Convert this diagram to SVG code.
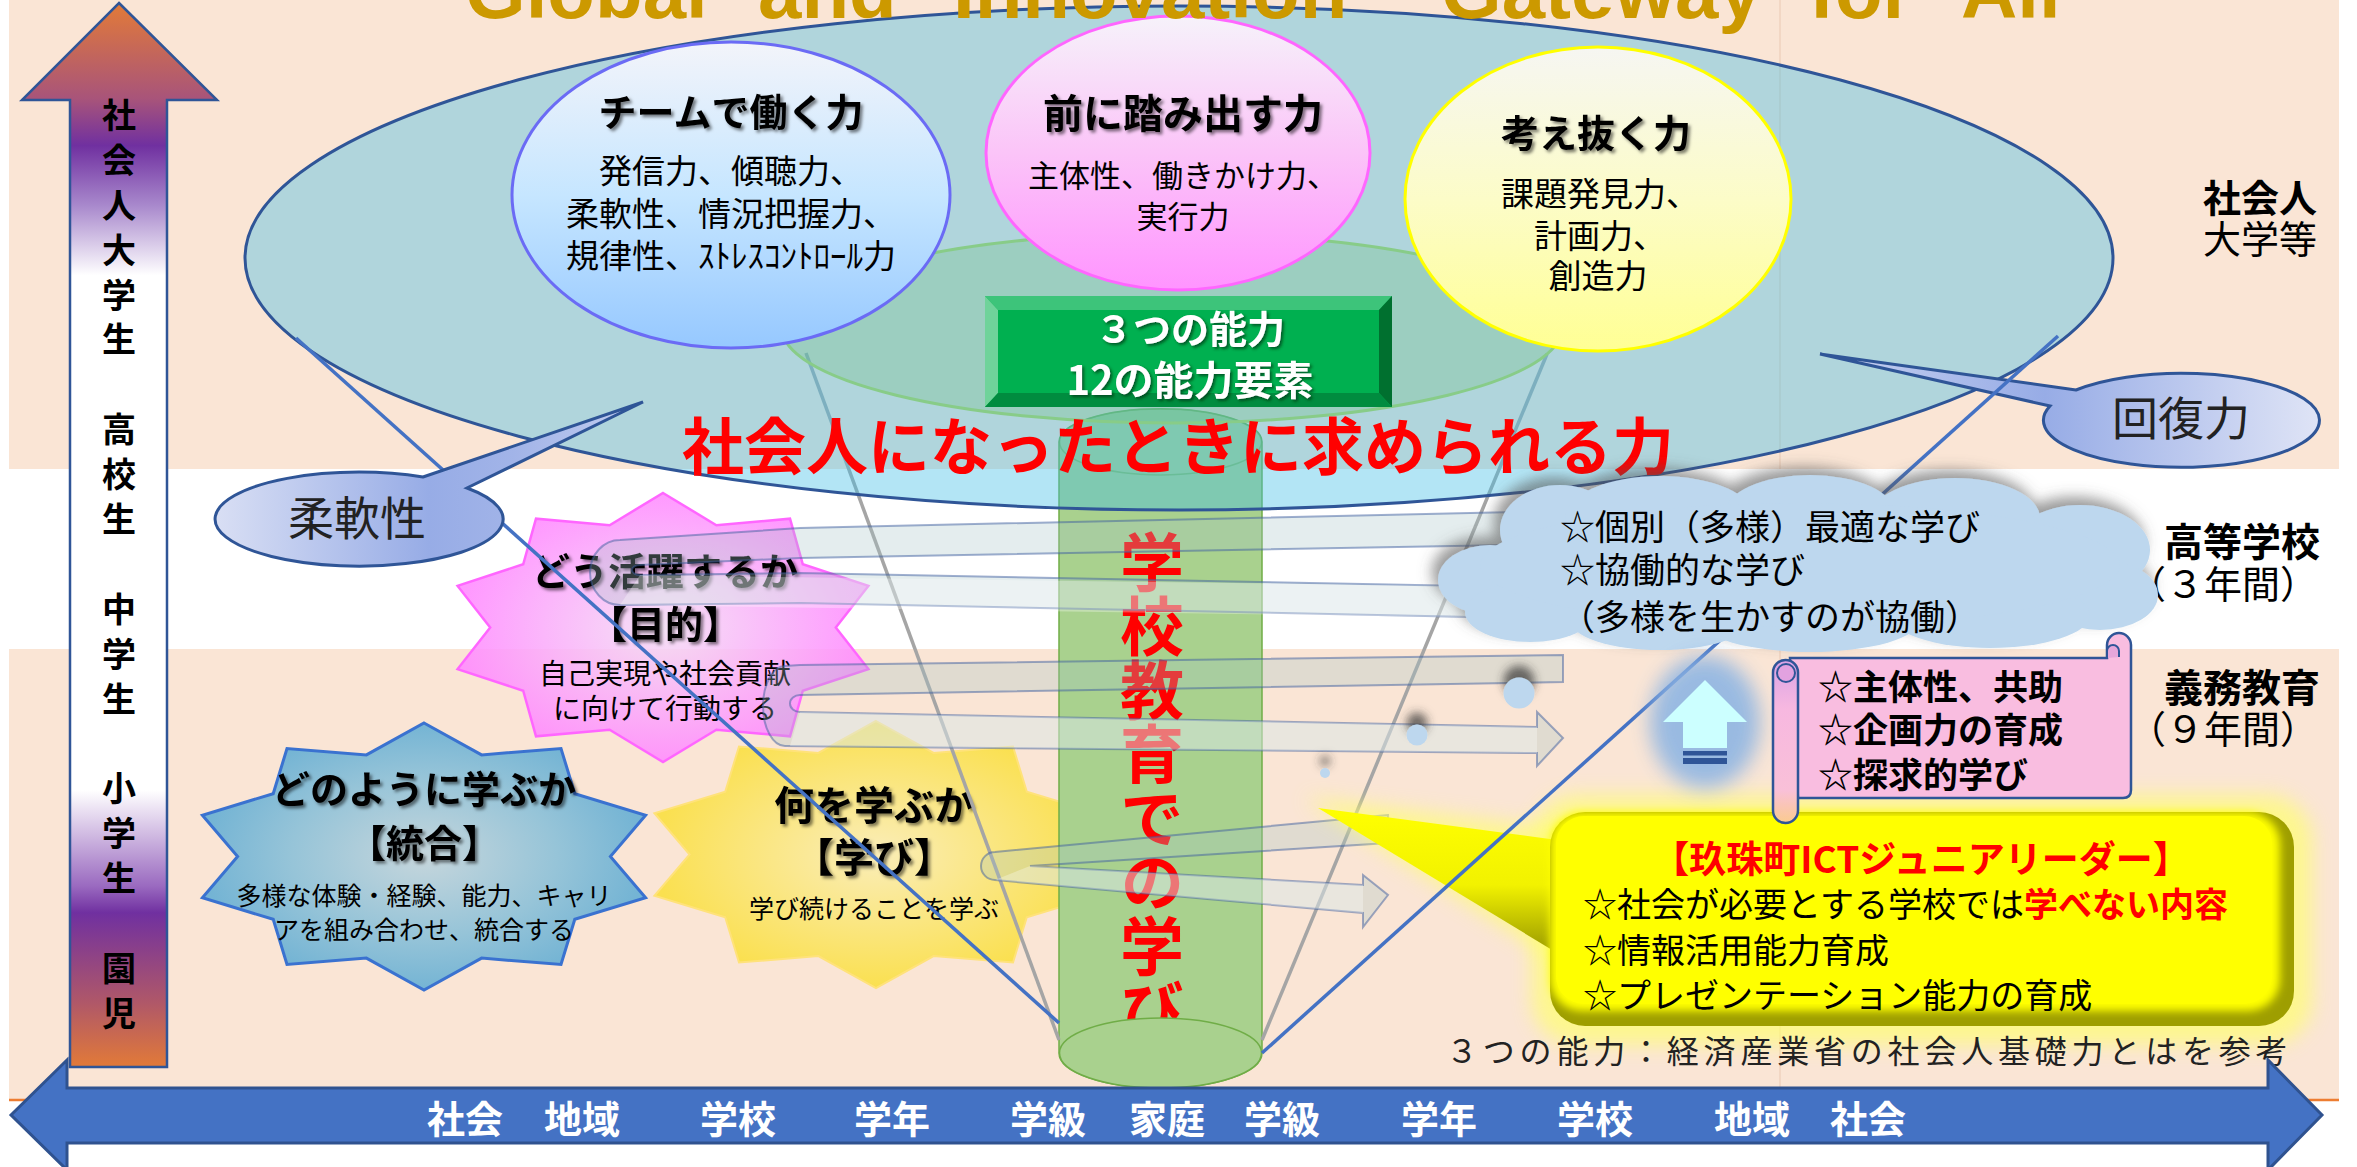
<svg xmlns="http://www.w3.org/2000/svg" width="2357" height="1167" viewBox="0 0 2357 1167">
<style>
text{font-family:'Noto Sans CJK JP','Noto Sans',sans-serif}
.b{font-weight:700}
.m{text-anchor:middle}
.w{fill:#fff}
.r{fill:#f00}
.v{writing-mode:vertical-rl}
.sh{filter:url(#tsh)}
.band{stroke:#3F5F9F;stroke-opacity:.5;stroke-width:2;fill:#A4C4C6;fill-opacity:.3}
.lite{fill:#fff;fill-opacity:.3}
.bl{stroke:#4472C4;stroke-width:3.5}
.gl{stroke:#A5A5A5;stroke-width:3.5}
.ol{stroke:#2F5597;stroke-width:3}
</style>
<defs>
<linearGradient id="gArr" gradientUnits="userSpaceOnUse" x1="0" y1="3" x2="0" y2="1067">
<stop offset="0" stop-color="#E27A38"/><stop offset="0.09" stop-color="#A8547A"/><stop offset="0.134" stop-color="#7030A0"/><stop offset="0.19" stop-color="#A888CC"/><stop offset="0.256" stop-color="#FFFFFF"/><stop offset="0.74" stop-color="#FFFFFF"/><stop offset="0.83" stop-color="#9A6AC0"/><stop offset="0.855" stop-color="#7030A0"/><stop offset="0.94" stop-color="#B05868"/><stop offset="1" stop-color="#E27A38"/>
</linearGradient>
<linearGradient id="gBlueC" x1="0" y1="0" x2="0" y2="1"><stop offset="0" stop-color="#F3F4FA"/><stop offset="0.5" stop-color="#C6E6FF"/><stop offset="1" stop-color="#96C8FF"/></linearGradient>
<linearGradient id="gPinkC" x1="0" y1="0" x2="0" y2="1"><stop offset="0" stop-color="#F6F2FA"/><stop offset="0.5" stop-color="#FBC4F8"/><stop offset="1" stop-color="#FF94FF"/></linearGradient>
<linearGradient id="gYelC" x1="0" y1="0" x2="0" y2="1"><stop offset="0" stop-color="#F6F6F2"/><stop offset="0.5" stop-color="#FCFCC8"/><stop offset="1" stop-color="#FFFF94"/></linearGradient>
<linearGradient id="gCall1" x1="0" y1="0" x2="1" y2="0"><stop offset="0" stop-color="#D9DFF4"/><stop offset="0.5" stop-color="#97ACE6"/><stop offset="0.7" stop-color="#A2B4E8"/><stop offset="1" stop-color="#C4CEF0"/></linearGradient>
<linearGradient id="gCall2" x1="0" y1="0" x2="1" y2="0"><stop offset="0" stop-color="#C9D2F0"/><stop offset="0.45" stop-color="#97ACE6"/><stop offset="1" stop-color="#DFE4F6"/></linearGradient>
<radialGradient id="gPinkS"><stop offset="0" stop-color="#F4DDF4"/><stop offset="1" stop-color="#FF8AFF"/></radialGradient>
<radialGradient id="gBlueS"><stop offset="0" stop-color="#C6D6DC"/><stop offset="0.6" stop-color="#96C4D8"/><stop offset="1" stop-color="#74B4D4"/></radialGradient>
<radialGradient id="gYelS"><stop offset="0" stop-color="#FAEDB8"/><stop offset="1" stop-color="#FAE050"/></radialGradient>
<linearGradient id="gRoll" x1="0" y1="0" x2="0" y2="1"><stop offset="0" stop-color="#D9A3E6"/><stop offset="0.3" stop-color="#F7B8E0"/><stop offset="0.8" stop-color="#F9C0D8"/><stop offset="1" stop-color="#FBCB8E"/></linearGradient>
<linearGradient id="gPtr" x1="0" y1="0" x2="0" y2="1"><stop offset="0" stop-color="#FFFF00"/><stop offset="0.5" stop-color="#F2F200"/><stop offset="1" stop-color="#8C8C00"/></linearGradient>
<filter id="tsh" x="-10%" y="-30%" width="120%" height="160%"><feDropShadow dx="2.5" dy="2.5" stdDeviation="1.5" flood-color="#000" flood-opacity="0.5"/></filter>
<filter id="tshG" x="-10%" y="-30%" width="120%" height="160%"><feDropShadow dx="2" dy="2" stdDeviation="1.5" flood-color="#003318" flood-opacity="0.7"/></filter>
<filter id="cloudSh" x="-10%" y="-30%" width="120%" height="160%"><feDropShadow dx="-6" dy="-8" stdDeviation="7" flood-color="#555" flood-opacity="0.6"/></filter>
<filter id="dotSh" x="-150%" y="-200%" width="400%" height="400%"><feDropShadow dx="0" dy="-12" stdDeviation="5" flood-color="#333" flood-opacity="0.7"/></filter>
<filter id="blur10" x="-50%" y="-50%" width="200%" height="200%"><feGaussianBlur stdDeviation="10"/></filter>
<filter id="blur4" x="-10%" y="-10%" width="120%" height="120%"><feGaussianBlur stdDeviation="4"/></filter>
</defs>

<g id="background">
<rect x="0" y="0" width="2357" height="1167" fill="#fff"/>
<rect x="9" y="0" width="2330" height="469" fill="#FAE5D5"/>
<rect x="9" y="649" width="2330" height="451" fill="#FAE5D5"/>
<line x1="1780" y1="0" x2="1780" y2="469" stroke="#EFD2BE" stroke-width="1.5"/>
<line x1="1780" y1="649" x2="1780" y2="1100" stroke="#EFD2BE" stroke-width="1.5"/>
<line x1="9" y1="1100" x2="2339" y2="1100" stroke="#ED7D31" stroke-width="2.5"/>
</g>

<g id="vertical-arrow">
<path d="M119,3 L217,100 L167,100 L167,1067 L70,1067 L70,100 L22,100 Z" fill="url(#gArr)" stroke="#2F5597" stroke-width="2.5"/>
<text x="119" y="98" class="b v" font-size="34" letter-spacing="10.9">社会人大学生　高校生　中学生　小学生　園児</text>
</g>

<g id="star-purpose">
<polygon points="663,493 716.4,525.2 790,518.7 802.8,564.3 868.4,585.9 835.8,627.5 868.4,669.1 802.8,690.7 790,736.3 716.4,729.8 663,762 609.6,729.8 536,736.3 523.2,690.7 457.6,669.1 490.2,627.5 457.6,585.9 523.2,564.3 536,518.7 609.6,525.2" fill="url(#gPinkS)" fill-opacity="0.88" stroke="#FF66FF" stroke-width="2.5"/>
<text x="665" y="585" class="b m sh" font-size="38">どう活躍するか</text>
<text x="665" y="638" class="b m sh" font-size="38">【目的】</text>
<text x="665" y="684" class="m" font-size="28">自己実現や社会貢献</text>
<text x="665" y="719" class="m" font-size="28">に向けて行動する</text>
</g>

<g id="star-integration">
<polygon points="424,723 481.6,754.9 561,748.5 574.8,793.7 645.6,815.2 610.4,856.5 645.6,897.8 574.8,919.3 561,964.5 481.6,958.1 424,990 366.4,958.1 287,964.5 273.2,919.3 202.4,897.8 237.6,856.5 202.4,815.2 273.2,793.7 287,748.5 366.4,754.9" fill="url(#gBlueS)" stroke="#3A72D0" stroke-width="3"/>
<text x="424" y="803" class="b m sh" font-size="38">どのように学ぶか</text>
<text x="424" y="857" class="b m sh" font-size="38">【統合】</text>
<text x="424" y="905" class="m" font-size="25">多様な体験・経験、能力、キャリ</text>
<text x="424" y="939" class="m" font-size="25">アを組み合わせ、統合する</text>
</g>

<g id="star-learning">
<polygon points="876,721 933.6,752.9 1013,746.5 1026.8,791.7 1097.6,813.2 1062.4,854.5 1097.6,895.8 1026.8,917.3 1013,962.5 933.6,956.1 876,988 818.4,956.1 739,962.5 725.2,917.3 654.4,895.8 689.6,854.5 654.4,813.2 725.2,791.7 739,746.5 818.4,752.9" fill="url(#gYelS)" stroke="#FFE27A" stroke-width="2"/>
<text x="874" y="820" class="b m sh" font-size="40">何を学ぶか</text>
<text x="874" y="872" class="b m sh" font-size="40">【学び】</text>
<text x="874" y="918" class="m" font-size="25">学び続けることを学ぶ</text>
</g>

<g id="cylinder">
<path d="M1059,442 A101,33 0 0 1 1262,442 L1262,1053 A101,35 0 0 1 1059,1053 Z" fill="#A9D18E" stroke="#70AD47" stroke-width="1.5"/>
<ellipse cx="1160.5" cy="442" rx="101" ry="33" fill="none" stroke="#70AD47" stroke-width="1.5" stroke-opacity="0.6"/>
<text x="1152" y="530" class="b r v" font-size="64">学校教育での学び</text>
<ellipse cx="1160.5" cy="1053" rx="101" ry="35" fill="#A9D18E" stroke="#70AD47" stroke-width="1.5"/>
</g>

<g id="connectors-funnel">
<line x1="806" y1="353" x2="1059" y2="1040" class="gl"/>
<line x1="1547" y1="354" x2="1262" y2="1040" class="gl"/>
</g>

<g id="society-ellipse">
<ellipse cx="1179" cy="258" rx="934" ry="252" fill="#41BEE6" fill-opacity="0.4" stroke="#2F5597" stroke-width="3"/>
<ellipse cx="1172" cy="328" rx="390" ry="95" fill="#6CC080" fill-opacity="0.3" stroke="#88CC88" stroke-width="3"/>
</g>

<g id="circle-team">
<ellipse cx="731" cy="195" rx="219" ry="153" fill="url(#gBlueC)" stroke="#6B6BF5" stroke-width="3"/>
<text x="731" y="126" class="b m sh" font-size="38">チームで働く力</text>
<text x="731" y="183" class="m" font-size="33">発信力、傾聴力、</text>
<text x="731" y="226" class="m" font-size="33">柔軟性、情況把握力、</text>
<text x="731" y="268" class="m" font-size="33">規律性、ｽﾄﾚｽｺﾝﾄﾛｰﾙ力</text>
</g>

<g id="circle-action">
<ellipse cx="1178" cy="153" rx="192" ry="137" fill="url(#gPinkC)" stroke="#FF66FF" stroke-width="3"/>
<text x="1183" y="128" class="b m sh" font-size="40">前に踏み出す力</text>
<text x="1183" y="187" class="m" font-size="31">主体性、働きかけ力、</text>
<text x="1183" y="228" class="m" font-size="31">実行力</text>
</g>

<g id="circle-thinking">
<ellipse cx="1598" cy="199" rx="193" ry="152" fill="url(#gYelC)" stroke="#FFFF00" stroke-width="3"/>
<text x="1596" y="147" class="b m sh" font-size="38">考え抜く力</text>
<text x="1600" y="206" class="m" font-size="33">課題発見力、</text>
<text x="1600" y="248" class="m" font-size="33">計画力、</text>
<text x="1598" y="288" class="m" font-size="33">創造力</text>
</g>

<g id="ability-button">
<rect x="985" y="296" width="407" height="111" fill="#00B050"/>
<polygon points="985,296 1392,296 1379,310 998,310" fill="#3DC47A"/>
<polygon points="985,296 998,310 998,393 985,407" fill="#6FD39A"/>
<polygon points="1392,296 1392,407 1379,393 1379,310" fill="#00702F"/>
<polygon points="985,407 1392,407 1379,393 998,393" fill="#008C3F"/>
<text x="1190" y="343" class="b m w" font-size="38" filter="url(#tshG)">３つの能力</text>
<text x="1190" y="395" class="b m w" font-size="40" filter="url(#tshG)">12の能力要素</text>
</g>

<g id="society-title">
<text x="1178" y="470" class="b m r" font-size="62">社会人になったときに求められる力</text>
</g>

<g id="connectors">
<g id="spiral">
<path class="band" d="M1560,511 L800,528 L620,540 A30,32.5 0 0 0 620,605 L800,603 L1520,618 L1520,587 L800,573 L640,575 A8,5 0 0 1 640,565 L800,558 L1560,544 Z"/>
<polygon class="lite" points="640,575 1520,587 1520,618 620,605"/>
<path class="band" d="M1563,655 L800,665 L785,666 A22,40 0 0 0 785,746 L1537,753 L1537,766 L1563,738 L1537,712 L1537,727 L800,712 A10,8.5 0 0 1 800,695 L1563,682 Z"/>
<polygon class="lite" points="800,712 1537,727 1537,753 790,746"/>
<path class="band" d="M1388,815 L995,852 A14,14 0 0 0 995,880 L1363,913 L1363,927 L1388,895 L1363,875 L1363,885 L1030,866 L1388,843 Z"/>
<polygon class="lite" points="1030,866 1363,885 1363,913 995,880"/>
</g>
<line x1="296" y1="338" x2="1059" y2="1023" class="bl"/>
</g>

<g id="callout-flex">
<path d="M423,477 L643,402 L467,488 A144,47 0 1 1 423,477 Z" fill="url(#gCall1)" class="ol"/>
<text x="357" y="535" class="m" font-size="46" fill="#222">柔軟性</text>
</g>
<g id="callout-recovery">
<path d="M2076,390 L1820,354 L2050,406 A138,47 0 1 0 2076,390 Z" fill="url(#gCall2)" class="ol"/>
<text x="2181" y="435" class="m" font-size="46" fill="#222">回復力</text>
</g>

<g id="ict-box">
<rect x="1532" y="795" width="780" height="250" rx="45" fill="#FFFF70" opacity="0.7" filter="url(#blur10)"/>
<polygon points="1305,798 1570,830 1570,970" fill="#FFFF70" opacity="0.7" filter="url(#blur10)"/>
<polygon points="1318,808 1572,842 1572,962" fill="url(#gPtr)"/>
<rect x="1550" y="812" width="744" height="214" rx="35" fill="#9E9E00"/>
<rect x="1550" y="812" width="730" height="199" rx="32" fill="#FFFF00" filter="url(#blur4)"/>
<rect x="1556" y="816" width="716" height="188" rx="28" fill="#FFFF00"/>
<text x="1921" y="873" class="b m r" font-size="37">【玖珠町ICTジュニアリーダー】</text>
<text x="1583" y="917" font-size="34">☆社会が必要とする学校では<tspan class="b r">学べない内容</tspan></text>
<text x="1583" y="963" font-size="34">☆情報活用能力育成</text>
<text x="1583" y="1008" font-size="34">☆プレゼンテーション能力の育成</text>
</g>

<g id="connector-right">
<line x1="1262" y1="1053" x2="2058" y2="336" class="bl"/>
</g>

<g id="labels-right">
<text x="2203" y="212" class="b" font-size="38">社会人</text>
<text x="2203" y="253" font-size="38">大学等</text>
<text x="2164" y="556" class="b" font-size="39">高等学校</text>
<text x="2128" y="598" font-size="38">（３年間）</text>
<text x="2164" y="702" class="b" font-size="39">義務教育</text>
<text x="2128" y="743" font-size="38">（９年間）</text>
</g>

<g id="cloud">
<g filter="url(#cloudSh)" fill="#BDD7EE">
<ellipse cx="1560" cy="530" rx="60" ry="45"/>
<ellipse cx="1490" cy="580" rx="52" ry="35"/>
<ellipse cx="1530" cy="612" rx="65" ry="30"/>
<ellipse cx="1660" cy="518" rx="95" ry="42"/>
<ellipse cx="1810" cy="513" rx="85" ry="38"/>
<ellipse cx="1955" cy="518" rx="85" ry="40"/>
<ellipse cx="2080" cy="550" rx="70" ry="45"/>
<ellipse cx="2100" cy="595" rx="58" ry="35"/>
<ellipse cx="1990" cy="615" rx="100" ry="33"/>
<ellipse cx="1810" cy="620" rx="110" ry="32"/>
<ellipse cx="1660" cy="620" rx="90" ry="30"/>
<ellipse cx="1800" cy="565" rx="320" ry="62"/>
</g>
<text x="1560" y="540" font-size="35">☆個別（多様）最適な学び</text>
<text x="1560" y="583" font-size="35">☆協働的な学び</text>
<text x="1560" y="630" font-size="35">（多様を生かすのが協働）</text>
<g fill="#BDD7EE" filter="url(#dotSh)">
<circle cx="1519" cy="693" r="15.5"/>
<circle cx="1417" cy="735" r="10.5"/>
<circle cx="1325" cy="773" r="5"/>
</g>
</g>

<g id="up-arrow">
<ellipse cx="1705" cy="722" rx="55" ry="66" fill="#8FB6E3" opacity="0.9" filter="url(#blur10)"/>
<path d="M1705,680 L1747,722 L1727,722 L1727,748 L1683,748 L1683,722 L1663,722 Z" fill="#CCFFFF"/>
<rect x="1683" y="751" width="44" height="4.5" fill="#2F5597"/>
<rect x="1683" y="758" width="44" height="6" fill="#2F5597"/>
</g>

<g id="scroll">
<path d="M1790,658 L2107,658 L2107,645 A12,12 0 0 1 2131,645 L2131,790 Q2131,798 2123,798 L1798,798 Z" fill="#F9BDE0" stroke="#2F5597" stroke-width="2.5"/>
<path d="M2107,658 L2107,651 A6,6 0 0 1 2119,651 L2119,657" fill="#E6A6DA" stroke="#2F5597" stroke-width="2"/>
<rect x="1773" y="660" width="25" height="163" rx="12.5" fill="url(#gRoll)" stroke="#2F5597" stroke-width="2.5"/>
<circle cx="1786" cy="673" r="9" fill="#E2A2E0" stroke="#2F5597" stroke-width="2"/>
<text x="1818" y="700" class="b" font-size="35">☆主体性、共助</text>
<text x="1818" y="743" class="b" font-size="35">☆企画力の育成</text>
<text x="1818" y="788" class="b" font-size="35">☆探求的学び</text>
</g>

<g id="caption">
<text x="1446" y="1063" font-size="32" letter-spacing="4.8" fill="#222">３つの能力：経済産業省の社会人基礎力とはを参考</text>
</g>

<g id="bottom-arrow">
<path d="M11,1115 L67,1060 L67,1088 L2268,1088 L2268,1060 L2322,1115 L2268,1170 L2268,1143 L67,1143 L67,1170 Z" fill="#4472C4" stroke="#2F528F" stroke-width="3"/>
<text class="b m w" font-size="38"><tspan x="465" y="1133">社会</tspan><tspan x="582" y="1133">地域</tspan><tspan x="738" y="1133">学校</tspan><tspan x="892" y="1133">学年</tspan><tspan x="1048" y="1133">学級</tspan><tspan x="1167" y="1133">家庭</tspan><tspan x="1282" y="1133">学級</tspan><tspan x="1439" y="1133">学年</tspan><tspan x="1595" y="1133">学校</tspan><tspan x="1752" y="1133">地域</tspan><tspan x="1868" y="1133">社会</tspan></text>
</g>

<g id="title">
<text style="font-family:'Liberation Sans',Arial,sans-serif" font-weight="700" font-size="78" fill="#CC9900"><tspan x="465" y="18">Global</tspan><tspan x="758" y="18">and</tspan><tspan x="953" y="18">Innovation</tspan><tspan x="1441" y="18">Gateway</tspan><tspan x="1809" y="18">for</tspan><tspan x="1961" y="18">All</tspan></text>
</g>
</svg>
